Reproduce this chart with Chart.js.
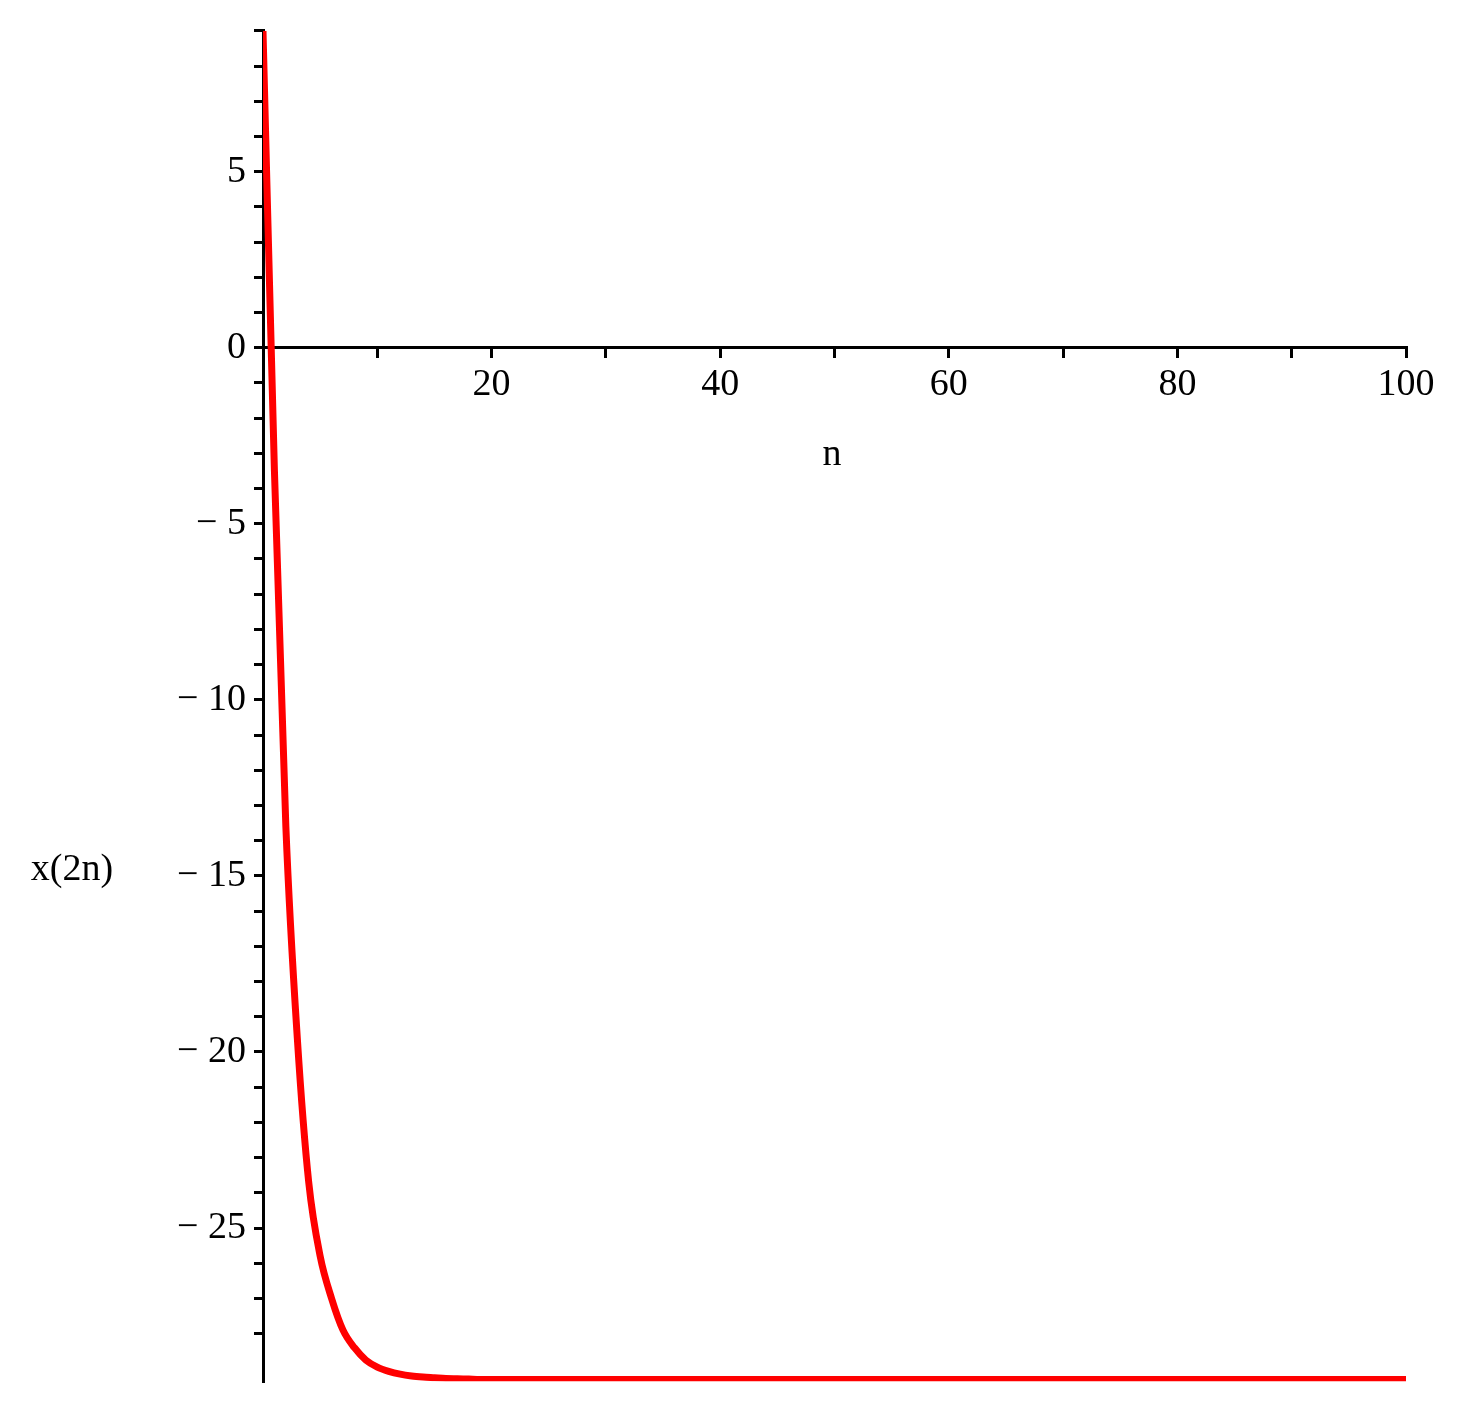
<!DOCTYPE html>
<html><head><meta charset="utf-8">
<script src="https://cdn.jsdelivr.net/npm/chart.js@4"></script>
<style>html,body{margin:0;padding:0;background:#fff}#wrap{width:1463px;height:1412px}</style>
</head><body><div id="wrap"><canvas id="c"></canvas></div>
<script>
const nValues = [0,1,2,3,4,5,6,7,8,9,10,11,12,13,14,15,16,17,18,19,20,25,30,40,50,60,70,80,90,100];
const xValues = [9.0,-3.5,-13.6,-19.6,-23.7,-25.8,-27.0,-27.9,-28.4,-28.75,-28.95,-29.07,-29.15,-29.2,-29.23,-29.25,-29.27,-29.28,-29.29,-29.3,-29.3,-29.3,-29.3,-29.3,-29.3,-29.3,-29.3,-29.3,-29.3,-29.3];
const xTickLabels = {20:'20',40:'40',60:'60',80:'80',100:'100'};
const yTickLabels = {5:'5',0:'0','-5':'− 5','-10':'− 10','-15':'− 15','-20':'− 20','-25':'− 25'};
const xAxisLabel = 'n', yAxisLabel = 'x(2n)';

const FONT = '"Liberation Serif", "DejaVu Serif", serif';
const labelsPlugin = {
  id:'lbl',
  afterDraw(chart){
    const ctx = chart.ctx; ctx.save();
    ctx.fillStyle='#000'; ctx.font='38px '+FONT; ctx.textAlign='center'; ctx.textBaseline='middle';
    ctx.fillText(xAxisLabel, 832, 455);
    ctx.fillText(yAxisLabel, 72, 870);
    ctx.restore();
  }
};
new Chart(document.getElementById('c'), {
  type:'scatter',
  data:{datasets:[{data:nValues.map((n,i)=>({x:n,y:xValues[i]})), showLine:true, borderColor:'#ff0000', borderWidth:7, pointRadius:0, tension:0.3, cubicInterpolationMode:'monotone'}]},
  options:{
    responsive:true, maintainAspectRatio:false, animation:false,
    layout:{padding:{left:0,top:25,right:57,bottom:26}},
    plugins:{legend:{display:false},tooltip:{enabled:false}},
    scales:{
      x:{type:'linear', min:0, max:100, position:{y:0},
        border:{color:'#000',width:3},
        grid:{drawOnChartArea:false, color:'#000', lineWidth:3, tickLength:9},
        ticks:{stepSize:10, color:'#000', font:{family:FONT,size:38}, padding:6, maxRotation:0, autoSkip:false,
          callback:v=>xTickLabels[v]||''}},
      y:{type:'linear', min:-29.35, max:9.0,
        afterFit(s){s.width=263;},
        afterBuildTicks(s){s.ticks=s.ticks.filter(t=>Number.isInteger(Math.round(t.value*1000)/1000)&&Math.abs(t.value-Math.round(t.value))<1e-6);},
        border:{color:'#000',width:3},
        grid:{drawOnChartArea:false, color:'#000', lineWidth:3, tickLength:9},
        ticks:{stepSize:1, color:'#000', font:{family:FONT,size:38}, padding:8, autoSkip:false,
          callback:v=>yTickLabels[String(Math.round(v))]!==undefined && Math.abs(v%5)<1e-6 ? yTickLabels[String(Math.round(v))] : ''}}
    }
  },
  plugins:[labelsPlugin]
});
</script></body></html>
